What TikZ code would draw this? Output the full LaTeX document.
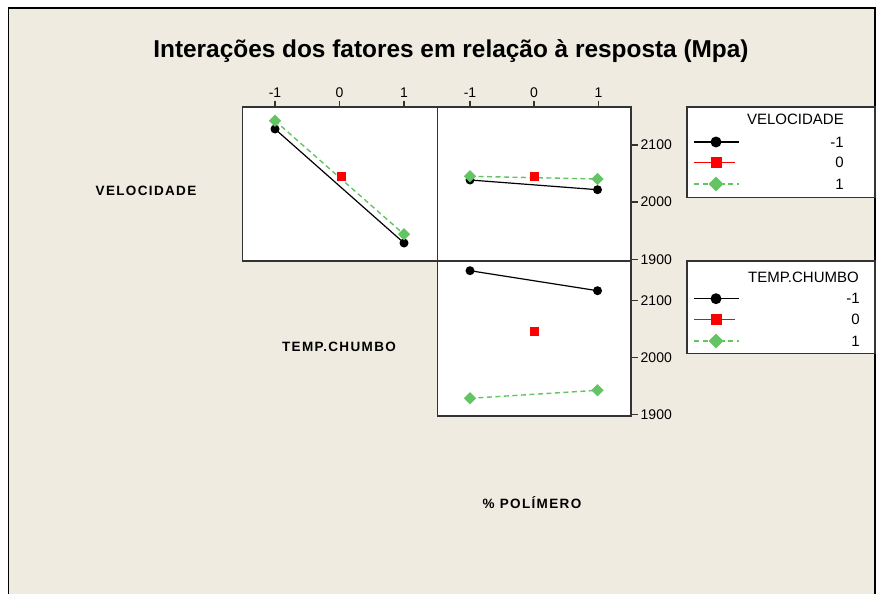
\documentclass[tikz,border=0pt]{standalone}
\usepackage{fontspec}
\setmainfont{Liberation Sans}
\usetikzlibrary{shapes.geometric,positioning}
\usepackage{xcolor}
\newcommand{\myunit}{1pt}
\definecolor{bgbeige}{RGB}{239,235,224}
\definecolor{ptgreen}{RGB}{98,196,98}
\tikzset{
    panelsty/.style={draw=black!80,fill=white,line width=1.6pt},
    blksty/.style={circle,fill=black,inner sep=0pt,minimum size=9*\myunit},
    redsty/.style={rectangle,fill=red,inner sep=0pt,minimum size=9*\myunit},
    grnsty/.style={diamond,aspect=1,fill=ptgreen,inner sep=0pt,minimum size=12.5*\myunit},
    blklsty/.style={draw=black,line width=1.2pt},
    redlsty/.style={draw=red,line width=1.2pt},
    grnlsty/.style={draw=ptgreen,line width=1.4pt,dash pattern=on 5pt off 3.5pt},
    ticksty/.style={draw=black!80,line width=1.4pt},
    tlblsty/.style={font=\fontsize{14}{14}\selectfont,inner sep=1pt},
    factsty/.style={font=\fontsize{13.5}{13.5}\selectfont\bfseries\addfontfeature{LetterSpace=10}},
    legsty/.style={font=\fontsize{15}{15}\selectfont,anchor=east,inner sep=0pt},
    bigsty/.style={minimum size=11*\myunit},
}

\begin{document}
\begin{tikzpicture}[x=\myunit,y=-\myunit]
\useasboundingbox (0,0) rectangle (883,594);
\fill[white] (0,0) rectangle (883,594);
\fill[bgbeige] (8.5,8) rectangle (875,594);
\draw[line width=1.3pt] (8.5,594) -- (8.5,8) -- (875,8) -- (875,594);

\node (title) at (451,51) {\fontsize{24.4}{24.4}\selectfont\bfseries Interações dos fatores em relação à resposta (Mpa)};

% panels
\draw[panelsty] (242.5,106.7) rectangle (437.3,261);
\draw[panelsty] (437.3,106.7) rectangle (631,261);
\draw[panelsty] (437.3,261) rectangle (631,415.7);

\foreach \x/\l in {275/-1,339.5/0,404/1,470/-1,534/0,598.5/1} {
    \draw[ticksty] (\x,100.5) -- (\x,106.7);
    \node[tlblsty,anchor=south] at (\x,98.5) {\l};
}
\foreach \y/\l in {145/2100,202/2000,259.3/1900,300.7/2100,357.7/2000,414.3/1900} {
    \draw[ticksty] (631,\y) -- (637.5,\y);
    \node[tlblsty,anchor=west] at (639.5,\y) {\l};
}

% VELOCIDADE x TEMP.CHUMBO
\coordinate (p1bka) at (275,129);
\coordinate (p1bkb) at (404,243);
\coordinate (p1gna) at (275,120.7);
\coordinate (p1gnb) at (404,234.3);
\coordinate (p1rd) at (341,176);
\draw[blklsty] (p1bka) -- (p1bkb);
\draw[grnlsty] (p1gna) -- (p1gnb);
\node[blksty] at (p1bka) {};
\node[blksty] at (p1bkb) {};
\node[redsty] at (p1rd) {};
\node[grnsty] at (p1gna) {};
\node[grnsty] at (p1gnb) {};

% VELOCIDADE x POLIMERO
\coordinate (p2bka) at (470,180);
\coordinate (p2bkb) at (597.5,189.7);
\coordinate (p2gna) at (470,176.3);
\coordinate (p2gnb) at (597.5,179);
\coordinate (p2rd) at (534,176);
\draw[blklsty] (p2bka) -- (p2bkb);
\draw[grnlsty] (p2gna) -- (p2gnb);
\node[blksty] at (p2bka) {};
\node[blksty] at (p2bkb) {};
\node[redsty] at (p2rd) {};
\node[grnsty] at (p2gna) {};
\node[grnsty] at (p2gnb) {};

% TEMP.CHUMBO x POLIMERO
\coordinate (p3bka) at (470,270.7);
\coordinate (p3bkb) at (597.5,290.7);
\coordinate (p3gna) at (470,398.3);
\coordinate (p3gnb) at (597.5,390.3);
\coordinate (p3rd) at (534,331.7);
\draw[blklsty] (p3bka) -- (p3bkb);
\draw[grnlsty] (p3gna) -- (p3gnb);
\node[blksty] at (p3bka) {};
\node[blksty] at (p3bkb) {};
\node[redsty] at (p3rd) {};
\node[grnsty] at (p3gna) {};
\node[grnsty] at (p3gnb) {};

% factor names
\node[factsty] (vellbl) at (146,191) {VELOCIDADE};
\node[factsty] (templbl) at (339,347) {TEMP.CHUMBO};
\node[factsty] (pollbl) at (532,503) {\% POLÍMERO};

% legends
\draw[panelsty] (686.7,106.7) rectangle (875,197.3);
\node[legsty] (vleg) at (844,119.3) {VELOCIDADE};
\coordinate (vlaa) at (694,142);   \coordinate (vlab) at (739,142);
\coordinate (vlba) at (694,162.3); \coordinate (vlbb) at (735,162.3);
\coordinate (vlca) at (694,184);   \coordinate (vlcb) at (739,184);
\draw[blklsty] (vlaa) -- (vlab);
\draw[redlsty] (vlba) -- (vlbb);
\draw[grnlsty] (vlca) -- (vlcb);
\node[blksty,bigsty] at (716,142) {};
\node[redsty,bigsty] at (716,162.3) {};
\node[grnsty,minimum size=15*\myunit] at (716,184) {};
\node[legsty] at (844,142) {-1};
\node[legsty] at (844,162.3) {0};
\node[legsty] at (844,184) {1};

\draw[panelsty] (686.7,261) rectangle (875,353.3);
\node[legsty] (tleg) at (859,277.3) {TEMP.CHUMBO};
\coordinate (tlaa) at (694,298.7); \coordinate (tlab) at (739,298.7);
\coordinate (tlba) at (694,319.3); \coordinate (tlbb) at (735,319.3);
\coordinate (tlca) at (694,341);   \coordinate (tlcb) at (739,341);
\draw[blklsty] (tlaa) -- (tlab);
\draw[redlsty] (tlba) -- (tlbb);
\draw[grnlsty] (tlca) -- (tlcb);
\node[blksty,bigsty] at (716,298.7) {};
\node[redsty,bigsty] at (716,319.3) {};
\node[grnsty,minimum size=15*\myunit] at (716,341) {};
\node[legsty] at (860,298.7) {-1};
\node[legsty] at (860,319.3) {0};
\node[legsty] at (860,341) {1};
\end{tikzpicture}
\end{document}
